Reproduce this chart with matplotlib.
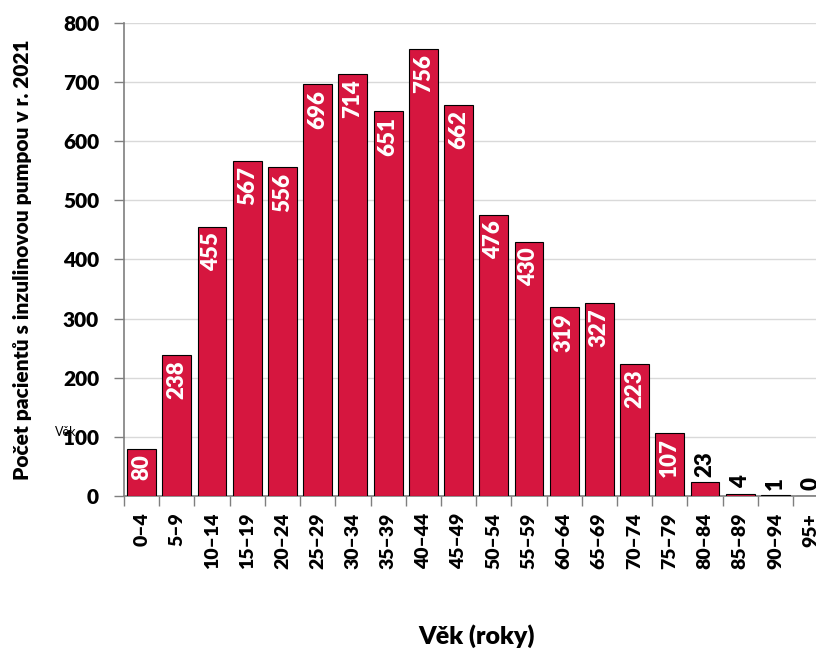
import matplotlib.pyplot as plt
import matplotlib.transforms as mtransforms

plt.rcParams['font.family'] = ['Lato', 'DejaVu Sans']

age_groups = ["0–4", "5–9", "10–14", "15–19", "20–24", "25–29", "30–34", "35–39",
              "40–44", "45–49", "50–54", "55–59", "60–64", "65–69", "70–74", "75–79",
              "80–84", "85–89", "90–94", "95+"]
patients = [80, 238, 455, 567, 556, 696, 714, 651, 756, 662,
            476, 430, 319, 327, 223, 107, 23, 4, 1, 0]

bar_color = "#D6163F"
axis_gray = "#7F7F7F"

fig = plt.figure(figsize=(8.16, 6.49), dpi=100)
ax = fig.add_axes([0.152, 0.2357, 0.863, 0.729])

x = list(range(len(age_groups)))
ax.bar(x, patients, width=0.82, color=bar_color, edgecolor="black", linewidth=0.8, zorder=3)

ax.set_xlim(-0.5, len(age_groups) - 0.5)
ax.set_ylim(0, 800)
ax.set_yticks(range(0, 801, 100))
ax.yaxis.grid(True, color="#D9D9D9", linewidth=1.0, zorder=0)
ax.set_axisbelow(True)

for s in ["top", "right"]:
    ax.spines[s].set_visible(False)
for s in ["left", "bottom"]:
    ax.spines[s].set_color(axis_gray)
    ax.spines[s].set_linewidth(1.2)

# category boundaries as major ticks, names on minor ticks at the centres
ax.set_xticks([i - 0.5 for i in range(len(age_groups) + 1)])
ax.set_xticklabels([])
ax.set_xticks(x, minor=True)
ax.set_xticklabels(age_groups, minor=True, rotation=90, fontsize=14, fontweight="heavy")
ax.tick_params(axis="x", which="major", length=7, color=axis_gray, width=1.0, direction="out")
ax.tick_params(axis="x", which="minor", length=0, pad=12)
ax.tick_params(axis="y", length=7, color=axis_gray, width=1.0, labelsize=15, pad=11)
for lbl in ax.get_yticklabels():
    lbl.set_fontweight("heavy")

ax.set_ylabel("Počet pacientů s inzulinovou pumpou v r. 2021", fontsize=15, fontweight="heavy", labelpad=22)
ax.set_xlabel("Věk (roky)", fontsize=18, fontweight="heavy", labelpad=40)

# value labels: white inside tall bars, black above short ones
for xi, v in zip(x, patients):
    if v >= 50:
        off = mtransforms.offset_copy(ax.transData, fig=fig, x=0, y=-4, units="points")
        ax.text(xi, v, str(v), rotation=90, ha="center", va="top", color="white",
                fontsize=16, fontweight="heavy", transform=off, zorder=4)
    else:
        off = mtransforms.offset_copy(ax.transData, fig=fig, x=0, y=4, units="points")
        ax.text(xi, v, str(v), rotation=90, ha="center", va="bottom", color="black",
                fontsize=16, fontweight="heavy", transform=off, zorder=4)

fig.text(55 / 816, 1 - 432 / 649, "Věk", fontsize=9, ha="left", va="center")

fig.savefig("out.png", dpi=100)
